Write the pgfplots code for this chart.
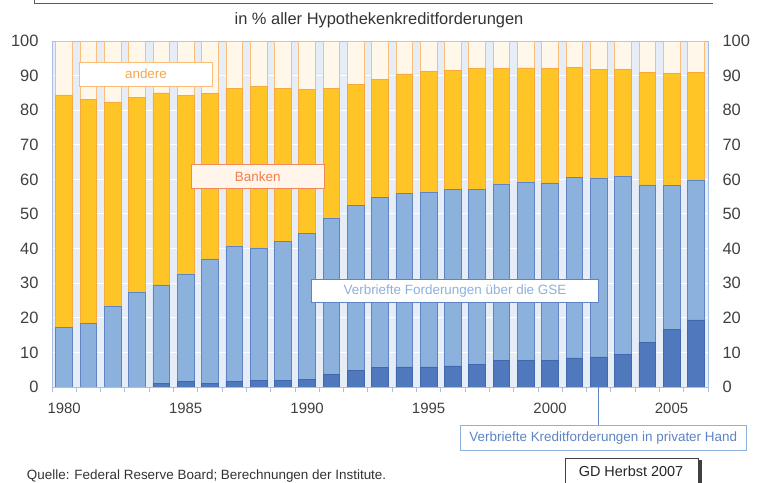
\documentclass[border=0pt]{standalone}
\usepackage{pgfplots}
\pgfplotsset{compat=1.18}
\usepackage{fontspec}
\setmainfont{Liberation Sans}
\definecolor{bgc}{HTML}{E7EDF7}
\definecolor{axcol}{HTML}{A9BEE4}
\definecolor{dkb}{HTML}{5079BD}
\definecolor{dkbb}{HTML}{4068AC}
\definecolor{ltb}{HTML}{8DB1DD}
\definecolor{ltbb}{HTML}{5E84C4}
\definecolor{org}{HTML}{FFC526}
\definecolor{orgb}{HTML}{F7A93B}
\definecolor{andf}{HTML}{FFF7EA}
\definecolor{andb}{HTML}{F9BE7A}
\definecolor{bkf}{HTML}{FFF5EA}
\definecolor{bkb}{HTML}{F08A5A}
\definecolor{bkt}{HTML}{EE8050}
\definecolor{andt}{HTML}{F6A84C}
\begin{document}
\begin{tikzpicture}
\useasboundingbox (0,0) rectangle (759bp,483bp);
\begin{axis}[
  at={(52bp,96bp)}, anchor=south west, scale only axis,
  width=656bp, height=346bp,
  xmin=1979.5, xmax=2006.5, ymin=0, ymax=100,
  ybar stacked, bar width=16.7bp,
  axis background/.style={fill=bgc},
  ymajorgrids, grid style={white, line width=1pt},
  ytick={0,10,...,100},
  xtick={1980,1985,1990,1995,2000,2005},
  xticklabels={1980,1985,1990,1995,2000,2005},
  minor xtick={1979.5,1980.5,...,2006.5},
  major tick length=0pt, minor tick length=5bp,
  tick align=outside, xtick pos=bottom, ytick pos=left,
  minor tick style={axcol, line width=0.8pt},
  ytick style={draw=none},
  axis line style={axcol, line width=0.8pt},
  /pgf/number format/assume math mode=true,
  yticklabel style={font=\fontsize{16.5}{18}\selectfont, text=black!75, xshift=-10bp},
  xticklabel style={font=\fontsize{15}{17}\selectfont, text=black!75, yshift=-13bp},
]
% private (dark blue)
\addplot[fill=dkb, draw=dkbb, line width=0.7pt] coordinates {
(1980,0) (1981,0) (1982,0) (1983,0) (1984,1.0) (1985,1.7) (1986,1.1) (1987,1.7) (1988,1.8) (1989,2.0)
(1990,2.3) (1991,3.7) (1992,4.8) (1993,5.7) (1994,5.8) (1995,5.8) (1996,6.1) (1997,6.6) (1998,7.8) (1999,7.8)
(2000,7.8) (2001,8.4) (2002,8.7) (2003,9.3) (2004,12.9) (2005,16.7) (2006,19.4)};
% GSE (light blue)
\addplot[fill=ltb, draw=ltbb, line width=0.7pt] coordinates {
(1980,17.2) (1981,18.4) (1982,23.2) (1983,27.4) (1984,28.5) (1985,30.8) (1986,35.9) (1987,39.0) (1988,38.4) (1989,40.1)
(1990,42.1) (1991,45.1) (1992,47.6) (1993,49.1) (1994,50.1) (1995,50.5) (1996,50.9) (1997,50.6) (1998,50.7) (1999,51.4)
(2000,51.2) (2001,52.2) (2002,51.7) (2003,51.5) (2004,45.5) (2005,41.6) (2006,40.2)};
% Banken (orange)
\addplot[fill=org, draw=orgb, line width=0.7pt] coordinates {
(1980,67.2) (1981,64.8) (1982,59.0) (1983,56.2) (1984,55.5) (1985,51.7) (1986,47.9) (1987,45.5) (1988,46.6) (1989,44.1)
(1990,41.5) (1991,37.6) (1992,35.0) (1993,34.2) (1994,34.6) (1995,34.9) (1996,34.6) (1997,34.8) (1998,33.5) (1999,33.0)
(2000,33.0) (2001,31.8) (2002,31.5) (2003,31.1) (2004,32.4) (2005,32.3) (2006,31.4)};
% andere
\addplot[fill=andf, draw=andb, line width=0.7pt] coordinates {
(1980,15.6) (1981,16.8) (1982,17.8) (1983,16.4) (1984,15.0) (1985,15.8) (1986,15.1) (1987,13.8) (1988,13.2) (1989,13.8)
(1990,14.1) (1991,13.6) (1992,12.6) (1993,11.0) (1994,9.5) (1995,8.8) (1996,8.4) (1997,8.0) (1998,8.0) (1999,7.8)
(2000,8.0) (2001,7.6) (2002,8.1) (2003,8.1) (2004,9.2) (2005,9.4) (2006,9.0)};
\end{axis}
\begin{axis}[
  at={(52bp,96bp)}, anchor=south west, scale only axis,
  width=656bp, height=346bp,
  xmin=1979.5, xmax=2006.5, ymin=0, ymax=100,
  hide x axis, axis y line*=right,
  ytick={0,10,...,100}, ytick style={draw=none},
  axis line style={axcol, line width=0.8pt},
  /pgf/number format/assume math mode=true,
  yticklabel style={font=\fontsize{16.5}{18}\selectfont, text=black!75, xshift=11bp},
]
\end{axis}
\begin{scope}[x=1bp, y=1bp]
\draw[black!65, line width=0.8pt] (34,490) -- (34,479.5) -- (713,479.5);
\node[font=\fontsize{16.5}{18}\selectfont, text=black!80] at (379,463) {in \% aller Hypothekenkreditforderungen};
\draw[fill=white, draw=andb, line width=0.8pt] (79.3,397) rectangle (212.7,421);
\node[font=\fontsize{13.5}{15}\selectfont, text=andt] at (146,409) {andere};
\draw[fill=bkf, draw=bkb, line width=0.8pt] (191,294.3) rectangle (324.3,318.7);
\node[font=\fontsize{13.5}{15}\selectfont, text=bkt] at (257.7,306.5) {Banken};
\draw[fill=white, draw=ltbb, line width=0.8pt] (311.7,180.7) rectangle (598.3,204);
\node[font=\fontsize{13.5}{15}\selectfont, text=ltb] at (455,192.3) {Verbriefte Forderungen über die GSE};
\draw[ltbb, line width=0.8pt] (598.3,96) -- (598.3,57.3);
\draw[fill=white, draw=ltb, line width=0.8pt] (460,33) rectangle (746.7,57.3);
\node[font=\fontsize{13.5}{15}\selectfont, text=ltbb] at (603.3,45.2) {Verbriefte Kreditforderungen in privater Hand};
\fill[black!75] (698,-5) rectangle (701.5,22.5);
\draw[fill=white, draw=black!75, line width=0.8pt] (565,-5) rectangle (698,24.7);
\node[font=\fontsize{14.5}{16}\selectfont, text=black!85] at (631,11.3) {GD Herbst 2007};
\node[anchor=base west, inner sep=0pt, font=\fontsize{13.5}{15}\selectfont, text=black!80] at (26.7,3.5) {Quelle: Federal Reserve Board; Berechnungen der Institute.};
\end{scope}
\end{tikzpicture}
\end{document}
